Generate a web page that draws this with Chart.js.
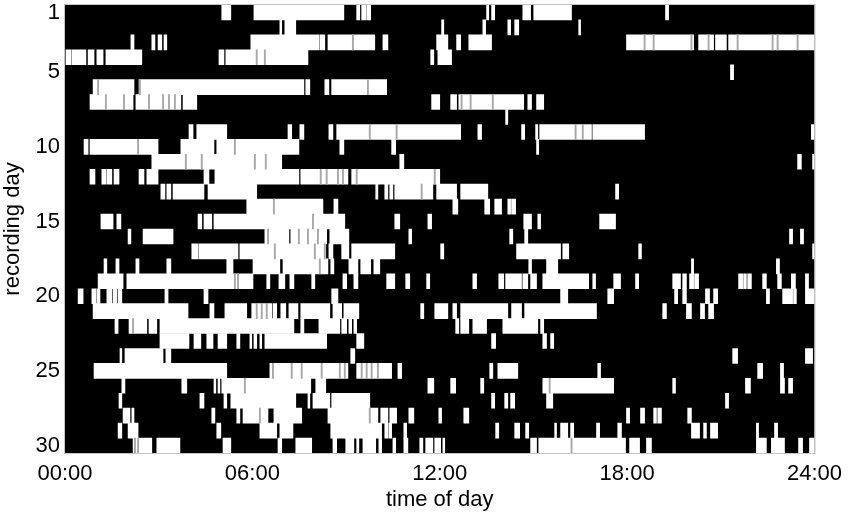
<!DOCTYPE html>
<html><head><meta charset="utf-8">
<style>html,body{margin:0;padding:0;background:#fff}#w{width:850px;height:513px}</style>
<script src="https://cdn.jsdelivr.net/npm/chart.js@4"></script></head>
<body><div id="w"><canvas id="c" width="850" height="513"></canvas></div>
<script>
// Activity intervals per recording day, as flat start,end pairs in hours of the day
const day1=[5.02,5.31,6.05,8.93,9.34,9.44,9.5,9.63,9.66,9.79,13.5,13.57,13.66,13.76,14.66,14.91,15.01,16.22,19.23,19.33];
const day2=[6.88,6.94,7.04,7.39,12.06,12.13,13.38,13.47,14.18,14.27,14.4,14.53,16.45,16.51];
const day3=[2.11,2.21,2.78,2.88,2.98,3.1,3.17,3.26,5.95,8.13,8.16,8.32,8.42,9.92,10.18,10.34,11.9,12.26,12.54,12.67,12.93,13.66,17.98,20.13,20.29,20.77,20.83,21.18,21.25,24];
const day4=[0.03,0.19,0.22,0.67,0.74,0.93,1.02,1.22,1.31,2.46,4.93,5.09,5.15,7.78,11.71,11.81,11.94,12.38];
const day5=[21.31,21.41];
const day6=[0.9,2.21,2.37,7.65,7.71,7.84,8.32,8.45,8.54,10.3];
const day7=[0.8,2.18,2.27,3.71,3.78,4.22,11.74,12,12.35,12.54,12.61,14.69,14.82,14.94,15.1,15.33];
const day8=[14.11,14.18];
const day9=[3.97,4.1,4.22,5.18,7.14,7.26,7.52,7.65,8.45,8.58,8.7,12.67,13.22,13.34,14.62,14.72,15.07,15.14,15.2,16.86,16.9,18.56,23.9,24];
const day10=[0.61,0.74,0.8,2.98,3.71,4.77,4.86,7.49,8.8,8.93,10.46,10.59,15.1,15.17];
const day11=[2.78,6.94,10.72,10.85,23.46,23.58,23.94,24];
const day12=[0.8,0.96,1.18,1.31,1.34,1.5,1.57,1.73,2.37,2.53,2.62,2.98,4.45,4.61,4.8,7.49,7.55,9.06,9.18,12];
const day13=[3.07,3.2,3.26,3.39,3.46,4.45,4.58,6.14,9.95,10.02,10.24,10.34,10.4,10.5,10.56,11.78,11.9,12.54,12.67,13.54,17.63,17.73];
const day14=[5.82,8.26,8.61,8.74,12.42,12.58,13.44,13.6,13.76,13.98,14.18,14.27,14.3,14.43];
const day15=[1.15,1.54,1.66,1.79,4.26,4.38,4.45,4.7,4.77,8.96,10.56,10.72,11.62,11.74,14.69,14.94,15.14,15.23,17.12,17.63];
const day16=[2.02,2.11,2.5,3.46,6.4,7.17,7.23,8.38,8.48,9.09,11.01,11.1,14.24,14.34,14.72,14.82,23.2,23.3,23.55,23.65];
const day17=[4.06,4.26,4.29,5.54,5.6,8.35,8.45,8.58,8.86,9.09,9.18,10.56,12.03,12.13,14.46,15.87,15.94,16.13,18.37,18.46,23.94,24];
const day18=[1.25,1.34,1.63,1.73,2.27,2.37,3.26,3.39,5.18,5.38,6.02,6.88,6.98,8.42,8.51,8.61,9.09,9.38,9.47,9.79,9.89,10.08,14.85,14.94,15.42,15.78,20.06,20.13,22.78,22.88];
const day19=[1.06,1.86,1.98,6.02,6.46,6.56,6.85,7.04,7.2,7.33,7.9,8,8.9,9.02,9.25,9.38,10.3,10.56,10.91,11.04,11.58,11.68,13.06,13.18,13.89,14.05,14.11,14.62,14.66,14.82,14.91,15.1,15.3,16.77,16.9,16.99,17.57,17.79,18.27,18.37,19.46,19.71,19.78,19.9,20,20.13,20.16,20.29,21.57,21.7,21.73,21.82,21.86,21.98,22.34,22.46,22.82,22.94,23.26,23.39,23.71,23.81];
const day20=[0.42,0.58,0.86,0.99,1.02,1.12,1.34,1.5,1.54,1.66,1.7,1.82,3.2,3.3,4.45,4.58,8.54,8.74,15.87,16.1,17.38,17.57,19.52,19.62,19.78,19.9,20.51,20.64,20.77,20.9,22.46,22.56,22.98,23.3,23.33,23.42,23.71,24];
const day21=[0.9,3.94,4.64,4.77,5.12,5.82,5.98,6.62,6.66,6.78,6.91,7.07,7.17,7.46,7.55,8.48,8.58,8.86,8.93,9.41,11.39,11.49,11.84,12.26,12.42,12.54,12.67,14.18,14.3,14.62,14.72,17.02,19.14,19.26,19.9,20.06,20.35,20.48,20.61,20.77];
const day22=[1.6,1.7,2.05,2.62,2.69,2.94,3.04,7.33,7.55,7.65,8.13,8.8,8.86,9.02,9.09,9.18,9.25,9.34,12.51,12.61,12.67,12.93,13.06,13.5,14.02,15.14,15.23,15.33];
const day23=[3.04,3.97,4.13,4.35,4.54,4.74,4.9,5.18,5.5,5.6,5.92,5.98,6.05,6.14,6.24,6.3,6.4,8.38,9.34,9.57,13.66,13.79,15.3,15.42,15.55,15.65];
const day24=[1.76,1.82,1.92,3.14,3.23,3.39,9.15,9.28,21.38,21.54,23.71,23.94];
const day25=[0.93,5.18,6.56,9.06,9.34,10.46,10.66,10.78,13.6,13.7,13.86,14.5,17.06,17.15,22.18,22.34,22.91,23.01];
const day26=[1.82,1.92,3.74,3.9,4.77,4.83,4.9,4.96,5.02,7.87,8.03,8.35,11.62,11.81,12.35,12.51,13.31,13.41,15.3,17.57,19.46,19.55,21.79,21.95,22.91,23.04,23.17,23.3];
const day27=[1.73,1.82,4.32,4.45,5.09,5.18,5.31,7.39,7.78,7.84,7.94,8.48,8.54,9.76,13.66,13.76,14.08,14.18,14.27,14.4,15.42,15.62,21.15,21.25];
const day28=[1.86,2.08,2.14,2.21,4.7,4.8,5.5,5.6,5.7,6.5,6.69,7.58,8.42,10.02,10.11,10.34,10.4,10.62,11.01,11.17,11.97,12.06,12.77,12.93,17.98,18.08,18.43,18.56,18.85,18.94,18.98,19.1,19.94,20.06];
const day29=[1.7,1.82,2.02,2.34,4.86,4.99,6.24,6.78,6.88,7.3,8.51,10.14,10.24,10.34,10.37,10.46,10.85,10.94,13.79,13.89,14.4,14.56,14.75,14.85,15.68,15.74,15.87,16.1,16.19,16.29,17.02,17.12,17.7,17.82,20.06,20.32,20.45,20.54,20.67,20.9,22.14,22.21,22.72,22.82];
const day30=[2.18,2.78,2.94,3.68,5.06,5.31,6.82,6.94,7.39,7.9,8.58,8.7,8.99,9.25,9.34,9.41,9.54,9.95,10.05,10.14,10.5,10.59,10.85,10.98,11.36,11.46,11.55,11.78,11.84,12.03,12.1,12.16,14.91,15.1,15.17,17.95,18.08,18.4,18.62,18.78,22.14,22.46,22.62,23.04,23.49,23.62,23.84,24];
const days=[day1,day2,day3,day4,day5,day6,day7,day8,day9,day10,day11,day12,day13,day14,day15,day16,day17,day18,day19,day20,day21,day22,day23,day24,day25,day26,day27,day28,day29,day30];
// Brief pauses that show as faint grey lines inside the activity blocks: recording day and hour
const faintDays=[3,3,3,3,3,3,3,3,3,4,4,6,6,6,7,7,7,7,7,7,7,7,7,9,9,9,9,10,10,11,11,11,11,12,12,12,12,12,12,13,14,15,16,16,16,16,17,17,17,18,19,19,21,21,21,22,25,25,25,25,25,25,25,25,25,25,26,26,28,28,30,30,30];
const faintHours=[9.22,18.56,18.85,20.06,20.61,21.54,22.66,22.82,23.46,6.14,6.4,1.06,2.4,9.7,1.31,1.89,2.69,3.14,3.33,3.52,12.7,12.99,13.7,9.76,10.62,16.35,16.58,2.34,5.44,3.87,4.38,6.08,6.43,8.19,8.38,8.74,8.9,9.34,11.84,11.42,6.69,7.94,6.5,7.49,7.78,8.1,6.72,8,8.32,8.16,5.44,5.54,6.14,6.3,6.46,2.18,6.66,7.26,7.58,8.22,8.8,8.96,9.5,9.66,9.82,10.02,5.76,15.52,6.24,9.76,2.24,2.34,16.22];
const faintHalfWidth=0.02;
const dayLabels=days.map((_,i)=>String(i+1));
const shownDays=['1','5','10','15','20','25','30'];
const hourTicks=[0,6,12,18,24];

const bars=[];
days.forEach((d,i)=>{for(let k=0;k<d.length;k+=2)bars.push({x:[d[k],d[k+1]],y:dayLabels[i]});});
const faintBars=faintHours.map((h,i)=>({x:[h-faintHalfWidth,h+faintHalfWidth],y:String(faintDays[i])}));

const plotBg={id:'plotBg',
 beforeDatasetsDraw(ch){const a=ch.chartArea,c=ch.ctx;c.save();c.fillStyle='#000';c.fillRect(a.left,a.top,a.width,a.height);c.restore();},
 afterDraw(ch){const a=ch.chartArea,c=ch.ctx;c.save();c.strokeStyle='#c4c4c4';c.lineWidth=1;c.strokeRect(a.left-.5,a.top-.5,a.width+1,a.height+1);c.restore();}};
const font={family:'"Liberation Sans",Arial,sans-serif',size:22};
new Chart(document.getElementById('c'),{type:'bar',
 data:{labels:dayLabels,datasets:[
  {data:bars,backgroundColor:'#fff',borderWidth:0,barPercentage:1,categoryPercentage:1,grouped:false,order:1},
  {data:faintBars,backgroundColor:'#a8a8a8',borderWidth:0,barPercentage:1,categoryPercentage:1,grouped:false,order:0}]},
 plugins:[plotBg],
 options:{indexAxis:'y',responsive:false,animation:false,
  layout:{padding:{left:0,top:5,right:35,bottom:0}},
  plugins:{legend:{display:false},tooltip:{enabled:false}},
  scales:{
   x:{type:'linear',min:0,max:24,grid:{display:false,drawTicks:false},border:{display:false},
      afterFit(s){s.height=60;},
      afterBuildTicks(s){s.ticks=hourTicks.map(v=>({value:v}));},
      ticks:{color:'#000',font,padding:8,maxRotation:0,autoSkip:false,callback:v=>String(v).padStart(2,'0')+':00'},
      title:{display:true,text:'time of day',color:'#000',font:{...font,size:22},padding:{top:0,bottom:0}}},
   y:{type:'category',grid:{display:false,drawTicks:false},border:{display:false},
      afterFit(s){s.width=65;s.paddingTop=0;s.paddingBottom=0;},
      ticks:{color:'#000',font,padding:5,autoSkip:false,callback(v){const l=this.getLabelForValue(v);return shownDays.includes(l)?l:'';}},
      title:{display:true,text:'recording day',color:'#000',font:{...font,size:22},padding:{top:0,bottom:0}}}
  }}});
</script></body></html>
